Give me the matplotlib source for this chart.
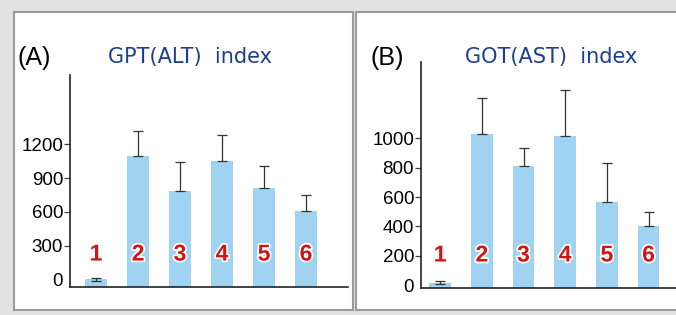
import matplotlib.pyplot as plt
import matplotlib.patheffects as pe
from matplotlib.patches import Rectangle
import numpy as np

# data
groups = ['1', '2', '3', '4', '5', '6']
alt_mean = [0, 1097, 789, 1050, 810, 610]
alt_err_up = [12, 225, 252, 237, 198, 138]
alt_err_dn = [12, 0, 0, 0, 0, 0]
ast_mean = [16, 1028, 810, 1019, 567, 406]
ast_err_up = [11, 250, 128, 311, 268, 89]
ast_err_dn = [8, 0, 0, 0, 0, 0]
alt_ticks = [0, 300, 600, 900, 1200]
ast_ticks = [0, 200, 400, 600, 800, 1000]

W, H = 676, 315
BAR_C = '#9fd3f1'
TITLE_C = '#1d3f8f'
NUM_C = '#d41414'

fig = plt.figure(figsize=(W / 100, H / 100), dpi=100)
fig.patch.set_facecolor('#e2e2e2')


def px_rect(x0, y0, x1, y1):
    """pixel box (top-left origin) -> figure fraction [l, b, w, h]"""
    return [x0 / W, (H - y1) / H, (x1 - x0) / W, (y1 - y0) / H]


# white panel boxes, kept behind the axes
for x0, x1 in [(14, 353), (356, 690)]:
    l, b, w, h = px_rect(x0, 12, x1, 310)
    fig.add_artist(Rectangle((l, b), w, h, transform=fig.transFigure,
                             facecolor='white', edgecolor='#9a9a9a', lw=1.5,
                             zorder=-5))


def panel(rect, xlim, ylim, mean, e_dn, e_up, ticks, num_y):
    ax = fig.add_axes(px_rect(*rect))
    ax.set_zorder(2)
    ax.patch.set_alpha(0)
    x = np.arange(len(groups))
    ax.bar(x, np.array(mean) - ylim[0], bottom=ylim[0], width=0.52,
           color=BAR_C, zorder=2)
    ax.errorbar(x, mean, yerr=[e_dn, e_up], fmt='none', ecolor='#333333',
                elinewidth=0.9, capsize=3.5, capthick=0.9, zorder=3)
    for xi, g in zip(x, groups):
        ax.text(xi, num_y, g, ha='center', va='center', color=NUM_C,
                fontsize=16.5, fontweight='bold', family='Liberation Sans',
                zorder=4,
                path_effects=[pe.withStroke(linewidth=2.5, foreground='white')])
    ax.set_xlim(*xlim)
    ax.set_ylim(*ylim)
    ax.set_xticks([])
    ax.set_yticks(ticks)
    ax.tick_params(axis='y', length=4, width=0.9, pad=1, labelsize=13.5,
                   color='#444444')
    for t in ax.get_yticklabels():
        t.set_family('Liberation Sans')
    ax.yaxis.get_major_ticks()[0].tick1line.set_visible(False)
    for s in ['top', 'right']:
        ax.spines[s].set_visible(False)
    for s in ['left', 'bottom']:
        ax.spines[s].set_linewidth(1.2)
        ax.spines[s].set_color('#222222')
    return ax


panel((70, 75, 348, 287), (-0.62, 6.0), (-68, 1818),
      alt_mean, alt_err_dn, alt_err_up, alt_ticks, 225)
panel((421, 62, 676, 288), (-0.46, 5.66), (-20, 1521),
      ast_mean, ast_err_dn, ast_err_up, ast_ticks, 205)

fig.text(34 / W, 1 - 58 / H, '(A)', ha='center', va='center', fontsize=18,
         family='Liberation Sans')
fig.text(387 / W, 1 - 58 / H, '(B)', ha='center', va='center', fontsize=18,
         family='Liberation Sans')
fig.text(190 / W, 1 - 57 / H, 'GPT(ALT)  index', ha='center', va='center',
         fontsize=15, color=TITLE_C)
fig.text(551 / W, 1 - 57 / H, 'GOT(AST)  index', ha='center', va='center',
         fontsize=15, color=TITLE_C)

fig.savefig('out.png', dpi=100, facecolor=fig.get_facecolor())
